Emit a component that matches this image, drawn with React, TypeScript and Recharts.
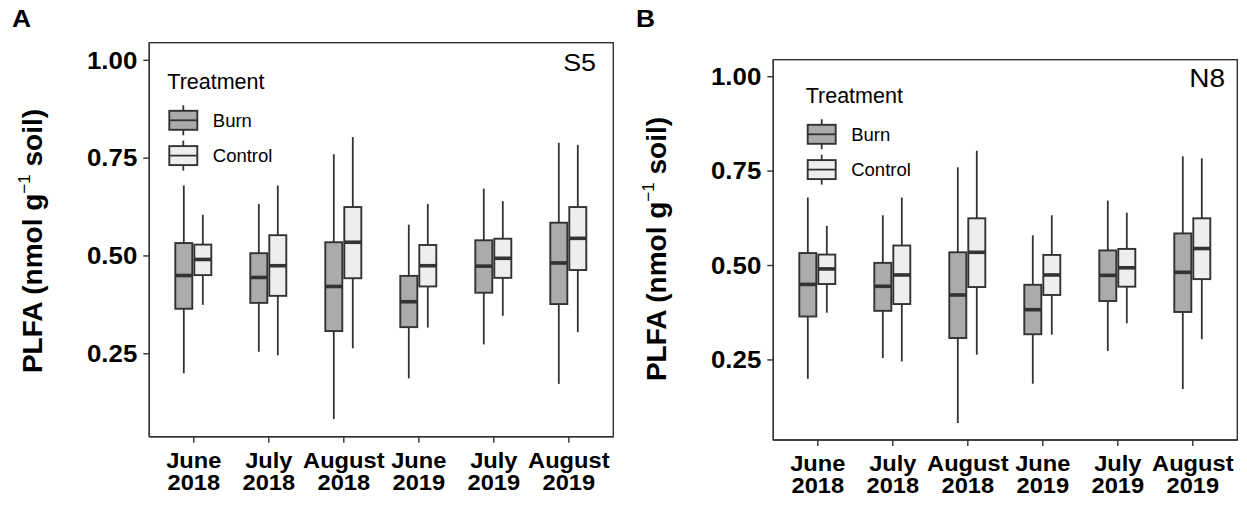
import React from "react";
import * as RC from "recharts";
import { BarChart, Bar, XAxis, YAxis } from "recharts";

const categories = ["June 2018", "July 2018", "August 2018", "June 2019", "July 2019", "August 2019"];

const burnMin = [0.2, 0.255, 0.083, 0.187, 0.274, 0.173];
const burnQ1 = [0.365, 0.38, 0.308, 0.318, 0.406, 0.377];
const burnMed = [0.45, 0.445, 0.422, 0.383, 0.474, 0.482];
const burnQ3 = [0.533, 0.507, 0.535, 0.449, 0.54, 0.585];
const burnMax = [0.68, 0.633, 0.76, 0.58, 0.672, 0.789];

const controlMin = [0.375, 0.246, 0.264, 0.317, 0.347, 0.305];
const controlQ1 = [0.451, 0.398, 0.443, 0.422, 0.444, 0.464];
const controlMed = [0.491, 0.475, 0.535, 0.475, 0.494, 0.545];
const controlQ3 = [0.529, 0.553, 0.625, 0.528, 0.544, 0.625];
const controlMax = [0.605, 0.68, 0.804, 0.633, 0.64, 0.784];

const yTicks = [0.25, 0.5, 0.75, 1.0];

const rows = categories.map((name, i) => ({
  name,
  burn: [burnQ1[i], burnQ3[i]],
  control: [controlQ1[i], controlQ3[i]],
  burnStats: { min: burnMin[i], q1: burnQ1[i], med: burnMed[i], q3: burnQ3[i], max: burnMax[i] },
  controlStats: { min: controlMin[i], q1: controlQ1[i], med: controlMed[i], q3: controlQ3[i], max: controlMax[i] },
}));

const INK = "#333333";
const BURN = "#ababab";
const CONTROL = "#eeeeee";
const FONT = "'Liberation Sans', Arial, sans-serif";

const usePlotArea: any = (RC as any).usePlotArea;

// panel border drawn from the chart's own plot area
function PanelBorder() {
  const area = usePlotArea ? usePlotArea() : null;
  if (!area) return null;
  return (
    <rect x={area.x} y={area.y} width={area.width} height={area.height}
      fill="none" stroke={INK} strokeWidth={1.4} />
  );
}

function BoxShape(props: any) {
  const { x, y, width, height, payload, statsKey, fill } = props;
  const s = payload[statsKey];
  const top = Math.min(y, y + height);
  const h = Math.abs(height);
  const k = h / (s.q3 - s.q1);
  const py = (v: number) => top + (s.q3 - v) * k;
  const cx = x + width / 2;
  return (
    <g>
      <line x1={cx} x2={cx} y1={py(s.max)} y2={top} stroke={INK} strokeWidth={1.8} />
      <line x1={cx} x2={cx} y1={top + h} y2={py(s.min)} stroke={INK} strokeWidth={1.8} />
      <rect x={x} y={top} width={width} height={h} fill={fill} stroke={INK} strokeWidth={1.9} />
      <line x1={x} x2={x + width} y1={py(s.med)} y2={py(s.med)} stroke={INK} strokeWidth={3.6} />
    </g>
  );
}

function YTick(props: any) {
  const { x, y, payload } = props;
  return (
    <g transform={`translate(${x},${y})`}>
      <text transform="scale(1.1,1)" x={0} y={0} dy={8.3} textAnchor="end" fontFamily={FONT}
        fontWeight="bold" fontSize={23.5} fill="#000">
        {Number(payload.value).toFixed(2)}
      </text>
    </g>
  );
}

function XTick(props: any) {
  const { x, y, payload } = props;
  const [m, yr] = String(payload.value).split(" ");
  return (
    <g transform={`translate(${x},${y})`}>
      <text transform="scale(1.1,1)" textAnchor="middle" fontFamily={FONT} fontWeight="bold"
        fontSize={21.5} fill="#000">
        <tspan x={0} dy={23.5}>{m}</tspan>
        <tspan x={0} dy={22}>{yr}</tspan>
      </text>
    </g>
  );
}

function Panel({ top, bottom }: { top: number; bottom: number }) {
  return (
    <BarChart width={620} height={505} data={rows} barSize={17} barGap={2}
      margin={{ top, right: 6.7, bottom, left: 69.3 }}>
      <XAxis dataKey="name" interval={0} height={60} tickSize={6} padding={{ left: 7, right: 7 }}
        axisLine={{ stroke: INK, strokeWidth: 1.4 }} tickLine={{ stroke: INK, strokeWidth: 1.4 }}
        tick={<XTick />} />
      <YAxis type="number" domain={[0.038, 1.045]} ticks={yTicks} width={80} tickSize={6}
        tickMargin={6} axisLine={{ stroke: INK, strokeWidth: 1.4 }}
        tickLine={{ stroke: INK, strokeWidth: 1.4 }} tick={<YTick />} />
      <Bar dataKey="burn" fill={BURN} isAnimationActive={false}
        shape={(p: any) => <BoxShape {...p} statsKey="burnStats" fill={BURN} />} />
      <Bar dataKey="control" fill={CONTROL} isAnimationActive={false}
        shape={(p: any) => <BoxShape {...p} statsKey="controlStats" fill={CONTROL} />} />
      <PanelBorder />
    </BarChart>
  );
}

function LegendKey({ x, y, fill }: { x: number; y: number; fill: string }) {
  return (
    <g>
      <line x1={x + 14} x2={x + 14} y1={y - 5.5} y2={y + 24.5} stroke={INK} strokeWidth={1.8} />
      <rect x={x} y={y} width={28} height={19} fill={fill} stroke={INK} strokeWidth={1.9} />
      <line x1={x} x2={x + 28} y1={y + 9.5} y2={y + 9.5} stroke={INK} strokeWidth={1.8} />
    </g>
  );
}

function TreatmentLegend({ x, y }: { x: number; y: number }) {
  return (
    <g fontFamily={FONT} fill="#000">
      <text x={x - 2} y={y} fontSize={21.5}>Treatment</text>
      <LegendKey x={x} y={y + 21.5} fill={BURN} />
      <text x={x + 43.5} y={y + 37.5} fontSize={18.5}>Burn</text>
      <LegendKey x={x} y={y + 56.8} fill={CONTROL} />
      <text x={x + 43.5} y={y + 72.6} fontSize={18.5}>Control</text>
    </g>
  );
}

function YTitle({ x, y }: { x: number; y: number }) {
  return (
    <text transform={`translate(${x},${y}) rotate(-90)`} textAnchor="middle" fontFamily={FONT}
      fontWeight="bold" fontSize={28} fill="#000">
      <tspan>PLFA (nmol g</tspan>
      <tspan dy={-12} fontSize={17} fontWeight="normal">−1</tspan>
      <tspan dy={12}> soil)</tspan>
    </text>
  );
}

export default function App() {
  return (
    <div style={{ position: "absolute", left: 0, top: 0, width: 1247, height: 505, background: "#fff" }}>
      <div style={{ position: "absolute", left: 0, top: 0 }}>
        <Panel top={42.7} bottom={8.3} />
      </div>
      <div style={{ position: "absolute", left: 624, top: 0 }}>
        <Panel top={59.7} bottom={5} />
      </div>
      <svg width={1247} height={505} style={{ position: "absolute", left: 0, top: 0, pointerEvents: "none" }}>
        <text x={12} y={27} fontFamily={FONT} fontWeight="bold" fontSize={24}
          transform="translate(12,0) scale(1.1,1) translate(-12,0)">A</text>
        <text x={636} y={27} fontFamily={FONT} fontWeight="bold" fontSize={24}
          transform="translate(636,0) scale(1.1,1) translate(-636,0)">B</text>
        <YTitle x={42} y={241} />
        <YTitle x={666} y={249} />
        <text x={596} y={70.7} textAnchor="end" fontFamily={FONT} fontSize={24}
          transform="translate(596,0) scale(1.12,1) translate(-596,0)">S5</text>
        <text x={1225} y={86.7} textAnchor="end" fontFamily={FONT} fontSize={25}
          transform="translate(1225,0) scale(1.12,1) translate(-1225,0)">N8</text>
        <TreatmentLegend x={169.3} y={89.3} />
        <TreatmentLegend x={807.7} y={103.3} />
      </svg>
    </div>
  );
}
